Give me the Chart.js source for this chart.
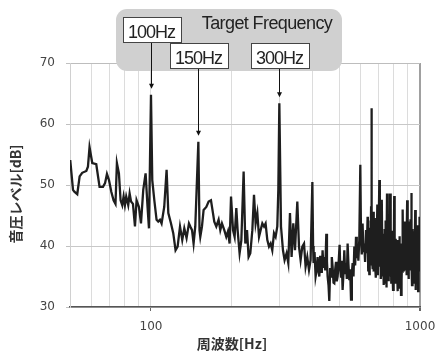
<!DOCTYPE html>
<html>
<head>
<meta charset="utf-8">
<script src="https://cdn.jsdelivr.net/npm/chart.js@4"></script>
<style>
  html, body { margin: 0; padding: 0; background: #fff; }
  canvas { display: block; }
</style>
</head>
<body>
<canvas id="spectrum" width="436" height="356"></canvas>
<script>
// Measured sound pressure spectrum: frequency [Hz] and level [dB]
const freqHz = [
  50.1, 51.3, 51.9, 53.2, 54.3, 55.5, 57.5, 58.3, 59.1, 60.5,
  62.6, 64.4, 66.3, 67.5, 68.6, 69.8, 71.2, 72.6, 73.8, 74.7,
  76.0, 77.1, 78.2, 79.1, 80.0, 80.9, 82.3, 83.3, 84.3, 85.7,
  87.2, 88.4, 90.2, 91.8, 93.6, 95.5, 97.1, 98.3, 100, 101.1,
  102.9, 104.9, 106.4, 108.0, 109.5, 112.0, 114.3, 116.0, 118.7, 121.0,
  123.4, 125.6, 128.2, 130.7, 133.0, 135.6, 138.4, 140.0, 142.1, 144.0,
  146.1, 150, 151.5, 152.5, 154.7, 156.9, 160.6, 163.8, 167.1, 170.0,
  171.9, 174.9, 178.4, 181.0, 183.6, 187.3, 190.5, 193.3, 196.0, 198.4,
  201.8, 204.6, 207.6, 209.9, 213.5, 216.7, 221.0, 224.2, 227.5, 230.6,
  234.0, 238.1, 241.5, 244.9, 248.5, 252.1, 255.6, 259.4, 263.2, 266.7,
  270.6, 274.6, 278.4, 282.4, 286.6, 290.6, 294.8, 297.4, 300, 304.3,
  309.5, 313.8, 319.2, 323.9, 328.6, 333.2, 338.1, 343.0, 349.9, 355.0,
  359.9, 365.2, 370.6, 375.6, 381.1, 386.7, 392.0, 398, 400.5, 402.3,
  405.5, 409.2, 413, 416.2, 419, 422.4, 425.5, 428.5, 431.5, 434.4,
  437.5, 440.8, 444.5, 448.5, 451, 453.5, 457, 460.1, 463.5, 466.9,
  470, 473.3, 477, 480.2, 484, 487.3, 490.5, 494.0, 498, 502.5,
  505.5, 508.6, 512, 515.6, 519.5, 523.2, 527, 530.8, 534.5, 538.2,
  542, 546.1, 550, 554.1, 558, 561.7, 566, 570.0, 574, 578.3,
  582, 586.2, 590, 594.8, 600, 603.6, 607.5, 611.8, 616, 620.8,
  625, 630.0, 634, 638.6,
  640, 642, 644, 646, 648, 650, 652, 654, 656, 658,
  660, 662, 664, 666, 668, 670, 672, 674, 676, 678,
  680, 682, 684, 686, 688, 690, 692, 694, 696, 698,
  700, 702, 704, 706, 708, 710, 712, 714, 716, 718,
  720, 722, 724, 726, 728, 730, 732, 734, 736, 738,
  740, 742, 744, 746, 748, 750, 752, 754, 756, 758,
  760, 762, 764, 766, 768, 770, 772, 774, 776, 778,
  780, 782, 784, 786, 788, 790, 792, 794, 796, 798,
  800, 802, 804, 806, 808, 810, 812, 814, 816, 818,
  820, 822, 824, 826, 828, 830, 832, 834, 836, 838,
  840, 842, 844, 846, 848, 850, 852, 854, 856, 858,
  860, 862, 864, 866, 868, 870, 872, 874, 876, 878,
  880, 882, 884, 886, 888, 890, 892, 894, 896, 898,
  900, 902, 904, 906, 908, 910, 912, 914, 916, 918,
  920, 922, 924, 926, 928, 930, 932, 934, 936, 938,
  940, 942, 944, 946, 948, 950, 952, 954, 956, 958,
  960, 962, 964, 966, 968, 970, 972, 974, 976, 978,
  980, 982, 984, 986, 988, 990, 992, 994, 996, 998,
  1000
];
const levelDb = [
  54.1, 49.2, 48.9, 48.5, 51.4, 52.0, 52.3, 53.0, 56.2, 53.6,
  53.4, 49.7, 49.7, 50.3, 51.8, 50.8, 48.9, 47.5, 46.9, 53.6,
  51.9, 47.5, 46.7, 48.1, 46.7, 48.1, 46.7, 48.6, 47.3, 46.9,
  43.2, 47.5, 46.4, 43.7, 49.2, 51.9, 46.4, 42.9, 64.8, 50.8,
  47.5, 44.3, 44.0, 44.3, 43.7, 46.4, 52.5, 45.4, 43.7, 42.1,
  39.3, 39.9, 43.2, 41.0, 42.9, 41.3, 43.7, 43.2, 42.6, 40.4,
  43.2, 57.1, 42.6, 41.5, 43.2, 45.9, 46.4, 47.3, 47.5, 45.4,
  44.0, 43.2, 44.3, 42.6, 43.7, 42.6, 41.5, 42.4, 40.4, 48.1,
  42.6, 41.5, 46.2, 42.6, 38.8, 40.9, 52.2, 40.4, 42.6, 38.2,
  38.8, 42.6, 48.4, 43.7, 45.4, 41.5, 42.6, 43.7, 43.2, 43.7,
  41.0, 39.9, 40.4, 39.3, 42.1, 41.5, 43.2, 49.2, 63.4, 43.2,
  39.3, 37.7, 38.8, 37.2, 45.4, 38.2, 43.7, 39.3, 47.3, 39.9,
  37.7, 39.9, 40.4, 36.6, 38.2, 36.1, 37.7, 50.5, 40.0, 37.2,
  39.0, 35.0, 36.1, 38.2, 36.0, 35.0, 38.4, 37.2, 35.6, 39.3,
  36.4, 38.2, 36.0, 42.0, 37.5, 35.0, 33.6, 31.0, 36.4, 35.0,
  38.2, 36.6, 34.0, 33.9, 36.2, 37.4, 34.2, 35.0, 37.0, 40.2,
  36.2, 35.0, 37.6, 32.8, 35.6, 39.3, 35.4, 37.2, 34.6, 40.4,
  37.0, 34.4, 36.2, 31.2, 35.4, 37.2, 35.0, 39.9, 36.8, 41.5,
  38.0, 40.4, 37.6, 41.0, 53.3, 41.5, 38.6, 43.7, 39.0, 40.4,
  37.4, 42.6, 38.8, 44.8,
  40.2, 36.0, 43.0, 38.2, 35.4, 41.6, 37.0, 44.2, 39.0, 46.5,
  62.6, 45.0, 37.6, 42.4, 36.2, 45.6, 39.4, 35.8, 43.2, 38.0,
  44.6, 36.4, 41.2, 34.8, 42.6, 37.2, 40.8, 46.8, 38.6, 35.2,
  43.4, 39.6, 44.8, 50.8, 41.0, 36.6, 42.2, 34.6, 40.4, 37.0,
  43.6, 47.6, 39.2, 35.0, 42.0, 37.8, 33.6, 40.6, 36.2, 42.8,
  38.0, 34.0, 41.4, 44.2, 36.8, 33.2, 39.6, 48.6, 40.2, 35.6,
  42.0, 34.4, 38.8, 41.8, 35.2, 39.0, 36.0, 48.6, 40.8, 37.4,
  43.0, 34.0, 39.4, 42.5, 36.0, 40.2, 35.0, 32.8, 38.6, 41.4,
  36.4, 48.2, 39.0, 35.4, 41.2, 36.8, 33.8, 40.6, 37.2, 34.0,
  39.8, 36.2, 41.0, 32.6, 37.6, 39.8, 34.6, 38.4, 35.2, 41.6,
  36.8, 33.0, 39.2, 36.0, 40.4, 32.0, 36.6, 39.6, 34.4, 38.2,
  35.6, 41.4, 46.0, 38.4, 35.8, 42.2, 37.6, 43.4, 36.0, 40.8,
  44.0, 37.2, 41.6, 36.4, 43.0, 38.8, 35.2, 41.2, 47.5, 39.8,
  36.4, 42.6, 38.0, 44.0, 34.6, 39.4, 41.0, 36.0, 38.6, 43.2,
  37.6, 44.4, 39.0, 36.2, 48.7, 40.6, 37.0, 33.6, 39.8, 42.8,
  36.4, 40.2, 35.4, 41.8, 38.0, 34.0, 39.2, 36.6, 42.4, 38.2,
  45.9, 37.4, 32.8, 38.6, 41.0, 35.4, 39.6, 36.8, 43.4, 38.0,
  34.6, 40.4, 32.6, 37.8, 42.0, 36.4, 39.6, 35.8, 44.8, 39.0,
  37.6
];

// Axis ticks
const xGridTicks = [50, 60, 70, 80, 90, 100, 200, 300, 400, 500, 600, 700, 800, 900, 1000];
const xLabelTicks = [100, 1000];
const yTicks = [30, 40, 50, 60, 70];

// Callouts
const panelTitle = 'Target Frequency';
const targetHz = [100, 150, 300];
const targetLabels = ['100Hz', '150Hz', '300Hz'];
const targetBoxTop = [17, 43, 43];

const xTitle = '周波数[Hz]';
const yTitle = '音圧レベル[dB]';

Chart.defaults.font.family = '"DejaVu Sans", sans-serif';

function roundedRect(ctx, x, y, w, h, r) {
  ctx.beginPath();
  ctx.moveTo(x + r, y);
  ctx.lineTo(x + w - r, y);
  ctx.arcTo(x + w, y, x + w, y + r, r);
  ctx.lineTo(x + w, y + h - r);
  ctx.arcTo(x + w, y + h, x + w - r, y + h, r);
  ctx.lineTo(x + r, y + h);
  ctx.arcTo(x, y + h, x, y + h - r, r);
  ctx.lineTo(x, y + r);
  ctx.arcTo(x, y, x + r, y, r);
  ctx.closePath();
}

// Axis titles plus the "Target Frequency" callout panel with arrows
const callouts = {
  id: 'callouts',
  afterDraw(chart) {
    const { ctx, scales: { x, y } } = chart;
    ctx.save();

    // axis titles
    ctx.fillStyle = '#333';
    ctx.font = 'bold 14px "Noto Sans CJK JP", sans-serif';
    ctx.textAlign = 'center';
    ctx.textBaseline = 'middle';
    ctx.fillText(xTitle, 232, 344);
    ctx.save();
    ctx.translate(16, 194);
    ctx.rotate(-Math.PI / 2);
    ctx.fillText(yTitle, 0, 0);
    ctx.restore();

    // grey panel
    ctx.fillStyle = '#d0d0d0';
    roundedRect(ctx, 116, 9, 226, 62, 11);
    ctx.fill();

    ctx.fillStyle = '#222';
    ctx.font = '18px "Liberation Sans", sans-serif';
    ctx.letterSpacing = '-0.6px';
    ctx.textAlign = 'center';
    ctx.textBaseline = 'alphabetic';
    ctx.fillText(panelTitle, 267, 29);

    targetHz.forEach((hz, i) => {
      const idx = freqHz.indexOf(hz);
      const px = Math.round(x.getPixelForValue(hz)) + 0.5;
      const peakY = y.getPixelForValue(levelDb[idx]);
      ctx.font = '18px "Liberation Sans", sans-serif';
      ctx.letterSpacing = '-1px';
      const tw = ctx.measureText(targetLabels[i]).width;
      const bw = Math.round(tw + 11);
      const bh = 25;
      const bx = Math.round(px - bw / 2) + 0.5;
      const by = targetBoxTop[i] + 0.5;

      // arrow
      const tipY = peakY - 6;
      ctx.strokeStyle = '#111';
      ctx.lineWidth = 1;
      ctx.beginPath();
      ctx.moveTo(px, by + bh);
      ctx.lineTo(px, tipY - 4);
      ctx.stroke();
      ctx.fillStyle = '#111';
      ctx.beginPath();
      ctx.moveTo(px - 2.5, tipY - 5);
      ctx.lineTo(px + 2.5, tipY - 5);
      ctx.lineTo(px, tipY);
      ctx.closePath();
      ctx.fill();

      // label box
      ctx.fillStyle = '#fff';
      ctx.fillRect(bx, by, bw, bh);
      ctx.strokeStyle = '#444';
      ctx.strokeRect(bx, by, bw, bh);
      ctx.fillStyle = '#222';
      ctx.textAlign = 'center';
      ctx.fillText(targetLabels[i], px, by + 20);
    });
    ctx.restore();
  }
};

new Chart(document.getElementById('spectrum'), {
  type: 'scatter',
  data: {
    datasets: [{
      data: freqHz.map((f, i) => ({ x: f, y: levelDb[i] })),
      showLine: true,
      borderColor: '#1e1e1e',
      borderWidth: 2.3,
      pointRadius: 0,
      tension: 0
    }]
  },
  options: {
    responsive: false,
    animation: false,
    devicePixelRatio: 1,
    layout: { padding: { top: 63, right: 16, left: 0, bottom: 0 } },
    plugins: { legend: { display: false }, tooltip: { enabled: false } },
    scales: {
      x: {
        type: 'logarithmic',
        min: 50,
        max: 1000,
        afterBuildTicks: s => { s.ticks = xGridTicks.map(v => ({ value: v })); },
        afterFit: s => { s.height = 49; s.paddingLeft = 0; s.paddingRight = 0; },
        ticks: {
          autoSkip: false,
          maxRotation: 0,
          padding: 9,
          color: '#444',
          font: { size: 12 },
          callback: v => (xLabelTicks.includes(v) ? String(v) : '')
        },
        grid: {
          color: c => (c.tick && c.tick.value === 1000 ? '#a0a0a0' : '#dcdcdc'),
          lineWidth: c => (c.tick && c.tick.value === 1000 ? 2 : 1),
          tickLength: 4,
          tickColor: c => (c.tick && xLabelTicks.includes(c.tick.value) ? '#666' : 'rgba(0,0,0,0)')
        },
        border: { color: '#555', width: 1.5 }
      },
      y: {
        min: 30,
        max: 70,
        afterBuildTicks: s => { s.ticks = yTicks.map(v => ({ value: v })); },
        afterFit: s => { s.width = 70; s.paddingTop = 0; s.paddingBottom = 0; },
        ticks: { padding: 11, color: '#444', font: { size: 12 } },
        grid: {
          color: c => (c.tick && c.tick.value === 70 ? '#bdbdbd' : '#c8c8c8'),
          tickLength: 4,
          tickColor: '#c0c0c0'
        },
        border: { color: '#d0d0d0', width: 1 }
      }
    }
  },
  plugins: [callouts]
});
</script>
</body>
</html>
